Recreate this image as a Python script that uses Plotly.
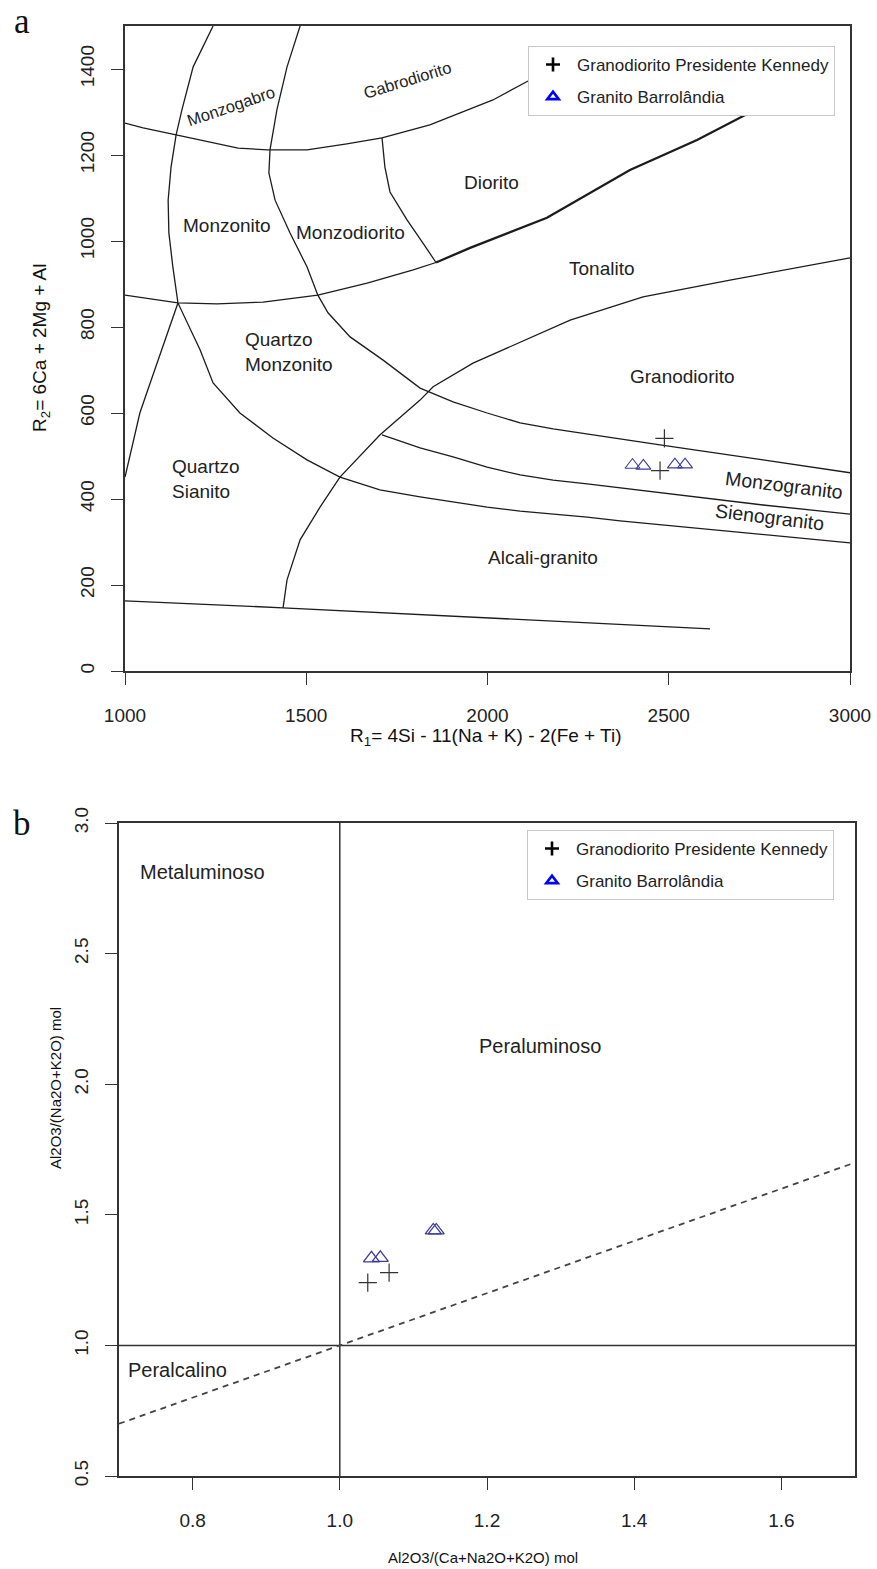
import plotly.graph_objects as go

W, H = 877, 1569
FONT = "Liberation Sans, Arial, sans-serif"
SERIF = "Liberation Serif, Times New Roman, serif"

# ---------------- Panel a : R1-R2 diagram (De la Roche) ----------------
# boundary curves (R1, R2)
line1_r1 = [1243, 1188, 1157, 1141, 1127, 1119, 1121, 1132, 1146, 1207, 1243, 1317, 1408,
            1502, 1593, 1703, 1814, 1905, 1999, 2090, 2181, 2275, 2366, 2476, 2760, 3000]
line1_r2 = [1500, 1405, 1305, 1247, 1172, 1095, 1019, 940, 856, 747, 670, 600, 542,
            491, 451, 421, 405, 393, 381, 372, 365, 358, 349, 340, 316, 298]

line2_r1 = [1483, 1447, 1419, 1400, 1397, 1414, 1455, 1502, 1532, 1560, 1621, 1712, 1814,
            1905, 1999, 2090, 2181, 2275, 2366, 2476, 2760, 3000]
line2_r2 = [1500, 1405, 1305, 1212, 1158, 1095, 1019, 940, 874, 833, 777, 723, 658,
            626, 600, 577, 563, 551, 540, 526, 491, 461]

line3_r1 = [1436, 1447, 1483, 1538, 1593, 1703, 1814, 1850, 1960, 2228, 2429, 2669, 3000]
line3_r2 = [147, 212, 305, 381, 451, 549, 630, 661, 716, 816, 870, 909, 961]

line4_r1 = [1000, 1436, 2614]
line4_r2 = [163, 147, 98]

line5_r1 = [1000, 1019, 1041, 1063, 1091, 1119, 1146]
line5_r2 = [451, 521, 600, 654, 723, 793, 856]

line6_r1 = [1000, 1146, 1254, 1381, 1532, 1668, 1795, 1858]
line6_r2 = [874, 856, 854, 858, 874, 902, 933, 950]

line6b_r1 = [1858, 1952, 2164, 2393, 2578, 2724, 2835]
line6b_r2 = [950, 984, 1054, 1165, 1235, 1298, 1347]

line7_r1 = [1000, 1050, 1141, 1207, 1312, 1395, 1502, 1612, 1709, 1841, 2015, 2112, 2228]
line7_r2 = [1274, 1263, 1247, 1235, 1216, 1212, 1212, 1226, 1240, 1270, 1328, 1372, 1416]

line8_r1 = [1709, 1717, 1731, 1778, 1822, 1858]
line8_r2 = [1240, 1172, 1114, 1049, 995, 950]

line9_r1 = [1709, 1814, 1905, 1999, 2090, 2181, 2275, 2366, 2476, 2760, 3000]
line9_r2 = [549, 519, 498, 474, 456, 444, 435, 426, 414, 386, 365]

# samples
gpk_a_r1 = [2488, 2476]
gpk_a_r2 = [541, 466]
gb_a_r1 = [2400, 2430, 2517, 2545]
gb_a_r2 = [479, 477, 480, 480]

# field names
lab_a_text = ["Monzogabro", "Gabrodiorito", "Monzonito", "Monzodiorito", "Diorito",
              "Tonalito", "Granodiorito", "Quartzo<br>Monzonito", "Quartzo<br>Sianito",
              "Monzogranito", "Sienogranito", "Alcali-granito"]
lab_a_r1 = [1292, 1778, 1281, 1621, 2012, 2316, 2539, 1325, 1124, 2818, 2779, 2153]
lab_a_r2 = [1314, 1374, 1035, 1019, 1137, 937, 684, 742, 447, 433, 358, 263]
lab_a_angle = [-19, -17, 0, 0, 0, 0, 0, 0, 0, 7, 7, 0]
lab_a_size = [16.5, 16.5, 19, 19, 19, 19, 19, 19, 19, 19.5, 19.5, 19]
lab_a_anchor = ["center"] * 7 + ["left", "left"] + ["center"] * 3

r1_ticks = [1000, 1500, 2000, 2500, 3000]
r2_ticks = [0, 200, 400, 600, 800, 1000, 1200, 1400]

# ---------------- Panel b : Shand index ----------------
acnk_ticks = [0.8, 1.0, 1.2, 1.4, 1.6]
acnk_ticktext = ["0.8", "1.0", "1.2", "1.4", "1.6"]
ank_ticks = [0.5, 1.0, 1.5, 2.0, 2.5, 3.0]
ank_ticktext = ["0.5", "1.0", "1.5", "2.0", "2.5", "3.0"]

vline_x = [1.0, 1.0]
vline_y = [0.5, 3.0]
hline_x = [0.7, 1.7]
hline_y = [1.0, 1.0]
diag_x = [0.7, 1.7]
diag_y = [0.7, 1.7]

gpk_b_x = [1.038, 1.067]
gpk_b_y = [1.240, 1.279]
gb_b_x = [1.043, 1.055, 1.127, 1.131]
gb_b_y = [1.333, 1.335, 1.440, 1.440]

lab_b_text = ["Metaluminoso", "Peraluminoso", "Peralcalino"]
lab_b_x = [0.726, 1.186, 0.710]
lab_b_y = [2.812, 2.146, 0.904]

LINE_C = "#1c1c1c"
TRI_C = "#3d3d98"
CROSS_C = "#333333"

fig = go.Figure()


def add_line(x, y, xa, ya, width=1.3, color=LINE_C, dash=None):
    fig.add_trace(go.Scatter(x=x, y=y, mode="lines", xaxis=xa, yaxis=ya,
                             line=dict(color=color, width=width, dash=dash),
                             hoverinfo="skip", showlegend=False))


for lx, ly in [(line1_r1, line1_r2), (line2_r1, line2_r2), (line3_r1, line3_r2),
               (line4_r1, line4_r2), (line5_r1, line5_r2), (line6_r1, line6_r2),
               (line7_r1, line7_r2), (line8_r1, line8_r2), (line9_r1, line9_r2)]:
    add_line(lx, ly, "x", "y")
add_line(line6b_r1, line6b_r2, "x", "y", width=2.3)

# panel a samples
fig.add_trace(go.Scatter(x=gpk_a_r1, y=gpk_a_r2, mode="markers", xaxis="x", yaxis="y",
                         marker=dict(symbol="cross-thin-open", size=13, color=CROSS_C,
                                     line=dict(color=CROSS_C, width=1.2)),
                         showlegend=False))
fig.add_trace(go.Scatter(x=gb_a_r1, y=gb_a_r2, mode="markers", xaxis="x", yaxis="y",
                         marker=dict(symbol="triangle-up-open", size=13, color=TRI_C,
                                     line=dict(color=TRI_C, width=1.1)),
                         showlegend=False))

# panel b lines
add_line(vline_x, vline_y, "x2", "y2", width=1.5, color="#333333")
add_line(hline_x, hline_y, "x2", "y2", width=1.5, color="#333333")
add_line(diag_x, diag_y, "x2", "y2", width=1.8, color="#444444", dash="6px,5px")

fig.add_trace(go.Scatter(x=gpk_b_x, y=gpk_b_y, mode="markers", xaxis="x2", yaxis="y2",
                         marker=dict(symbol="cross-thin-open", size=13, color=CROSS_C,
                                     line=dict(color=CROSS_C, width=1.2)),
                         showlegend=False))
fig.add_trace(go.Scatter(x=gb_b_x, y=gb_b_y, mode="markers", xaxis="x2", yaxis="y2",
                         marker=dict(symbol="triangle-up-open", size=14, color=TRI_C,
                                     line=dict(color=TRI_C, width=1.3)),
                         showlegend=False))

# legend entries (bold legend symbols as in the reference)
for lg, xa, ya in [("legend", "x", "y"), ("legend2", "x2", "y2")]:
    fig.add_trace(go.Scatter(x=[None], y=[None], mode="markers", xaxis=xa, yaxis=ya,
                             name="Granodiorito Presidente Kennedy", legend=lg,
                             legendgroup=lg + "gpk",
                             marker=dict(symbol="cross-thin-open", size=10, color="black",
                                         line=dict(color="black", width=2.6))))
    fig.add_trace(go.Scatter(x=[None], y=[None], mode="markers", xaxis=xa, yaxis=ya,
                             name="Granito Barrolândia", legend=lg,
                             legendgroup=lg + "gb",
                             marker=dict(symbol="triangle-up-open", size=10, color="#0000ff",
                                         line=dict(color="#0000ff", width=2.6))))

annotations = []
for t, x, y, a, s, anc in zip(lab_a_text, lab_a_r1, lab_a_r2, lab_a_angle, lab_a_size, lab_a_anchor):
    annotations.append(dict(text=t, x=x, y=y, xref="x", yref="y", showarrow=False,
                            textangle=a, xanchor=anc, yanchor="middle", align="left",
                            font=dict(family=FONT, size=s, color="#222")))
for t, x, y in zip(lab_b_text, lab_b_x, lab_b_y):
    annotations.append(dict(text=t, x=x, y=y, xref="x2", yref="y2", showarrow=False,
                            xanchor="left", yanchor="middle",
                            font=dict(family=FONT, size=20, color="#222")))


def pann(text, px, py, size, angle=0, family=FONT, yanchor="middle"):
    annotations.append(dict(text=text, x=px / W, y=1 - py / H, xref="paper", yref="paper",
                            showarrow=False, textangle=angle, xanchor="center",
                            yanchor=yanchor, font=dict(family=family, size=size, color="#111")))


pann("R<sub>1</sub>= 4Si - 11(Na + K) - 2(Fe + Ti)", 486, 737, 19)
pann("R<sub>2</sub>= 6Ca + 2Mg + Al", 41, 348, 19, angle=-90)
pann("Al2O3/(Ca+Na2O+K2O) mol", 483, 1557, 15)
pann("Al2O3/(Na2O+K2O) mol", 55, 1088, 15, angle=-90)
pann("a", 22, 0, 35, family=SERIF, yanchor="top")
pann("b", 22, 802, 35, family=SERIF, yanchor="top")

axis_common = dict(showgrid=False, zeroline=False, showline=True, linecolor="#333",
                   linewidth=1.5, mirror=True, ticks="outside", ticklen=12, tickwidth=1.4,
                   tickcolor="#333", automargin=False,
                   tickfont=dict(family=FONT, size=19, color="#222"))

fig.update_layout(
    template="none",
    width=W, height=H, autosize=False,
    margin=dict(l=0, r=0, t=0, b=0, pad=0),
    paper_bgcolor="white", plot_bgcolor="white",
    xaxis=dict(domain=[125 / W, 850 / W], range=[1000, 3000], anchor="y",
               tickvals=r1_ticks, ticklabelstandoff=14, **axis_common),
    yaxis=dict(domain=[1 - 671 / H, 1 - 26 / H], range=[0, 1500], anchor="x",
               tickvals=r2_ticks, tickangle=-90, ticklabelstandoff=10, **axis_common),
    xaxis2=dict(domain=[119 / W, 855 / W], range=[0.7, 1.7], anchor="y2",
                tickvals=acnk_ticks, ticktext=acnk_ticktext, ticklabelstandoff=14, **axis_common),
    yaxis2=dict(domain=[1 - 1476 / H, 1 - 823 / H], range=[0.5, 3.0], anchor="x2",
                tickvals=ank_ticks, ticktext=ank_ticktext, tickangle=-90,
                ticklabelstandoff=10, **axis_common),
    legend=dict(x=528 / W, y=1 - 46 / H, xanchor="left", yanchor="top", bgcolor="white",
                bordercolor="#c8c8c8", borderwidth=1, tracegroupgap=7, itemwidth=38,
                font=dict(family=FONT, size=17, color="#222")),
    legend2=dict(x=527 / W, y=1 - 830 / H, xanchor="left", yanchor="top", bgcolor="white",
                 bordercolor="#c8c8c8", borderwidth=1, tracegroupgap=7, itemwidth=38,
                 font=dict(family=FONT, size=17, color="#222")),
    annotations=annotations,
    showlegend=True,
)

fig.write_html("out.html")
